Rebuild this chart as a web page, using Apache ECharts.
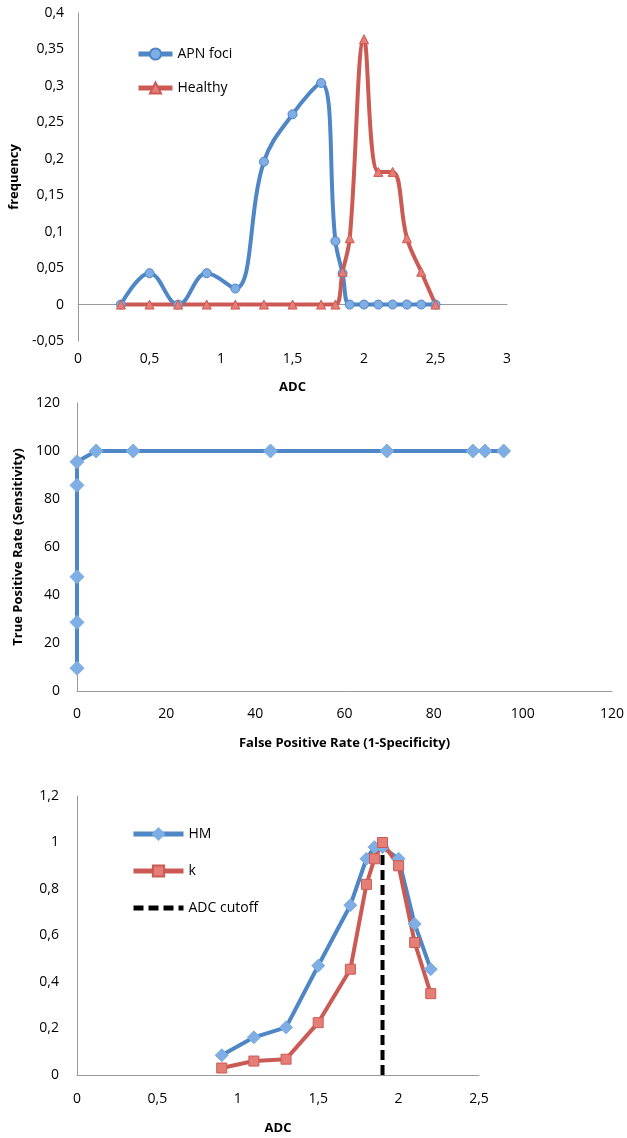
<!DOCTYPE html>
<html><head><meta charset="utf-8">
<script src="https://cdn.jsdelivr.net/npm/echarts@6/dist/echarts.min.js"></script>
<style>html,body{margin:0;padding:0;background:#fff}#c{width:627px;height:1138px}</style>
</head><body><div id="c"></div>
<script>
// Chart 1: frequency distribution
const adcBins = [0.3,0.5,0.7,0.9,1.1,1.3,1.5,1.7,1.8,1.85,1.9,2.0,2.1,2.2,2.3,2.4,2.5];
const apnFoci = [0,0.043,0,0.043,0.022,0.196,0.261,0.304,0.087,0.043,0,0,0,0,0,0,0];
const healthy = [0,0,0,0,0,0,0,0,0,0.045,0.091,0.364,0.182,0.182,0.091,0.045,0];
// Chart 2: ROC
const fpr = [0,0,0,0,0,4.3,12.6,43.4,69.5,88.8,91.5,95.7];
const tpr = [9.5,28.6,47.6,85.7,95.5,100,100,100,100,100,100,100];
// Chart 3: HM and k vs ADC
const adcCut = [0.9,1.1,1.3,1.5,1.7,1.8,1.85,1.9,2.0,2.1,2.2];
const hm = [0.085,0.162,0.205,0.47,0.73,0.93,0.98,0.98,0.93,0.65,0.455];
const kappa = [0.03,0.06,0.068,0.225,0.455,0.82,0.93,1.0,0.90,0.57,0.35];
const cutoffX = [1.9,1.9];
const cutoffY = [0,1.0];

const FONT = 'Open Sans';
const BLUE = '#4f86c6', BLUE_L = '#7eaee3';
const RED = '#cc5a54', RED_L = '#e57e77';
const fmt = v => String(Math.round(v*1000)/1000).replace('.', ',');
const lbl = (m) => ({margin:m, formatter:fmt, fontSize:14, color:'#000', fontFamily:FONT});
const aLine = {show:true, onZero:true, lineStyle:{color:'#999', width:1}};
const nameStyle = {fontWeight:'bold', fontSize:13, color:'#000', fontFamily:FONT};
const base = {type:'value', axisLine:aLine, axisTick:{show:false}, splitLine:{show:false}};
const pairs = (xs, ys) => xs.map((x,i)=>[x, ys[i]]);

const option = {
  animation:false,
  backgroundColor:'#fff',
  grid:[
    {left:77, top:13, width:430, height:328},
    {left:77, top:403, width:535, height:288},
    {left:77, top:796, width:402, height:279}
  ],
  xAxis:[
    Object.assign({}, base, {gridIndex:0, min:0, max:3, interval:0.5, axisLabel:lbl(11),
      name:'ADC', nameLocation:'middle', nameGap:40, nameTextStyle:nameStyle}),
    Object.assign({}, base, {gridIndex:1, min:0, max:120, interval:20, axisLabel:lbl(16),
      name:'False Positive Rate (1-Specificity)', nameLocation:'middle', nameGap:46, nameTextStyle:nameStyle}),
    Object.assign({}, base, {gridIndex:2, min:0, max:2.5, interval:0.5, axisLabel:lbl(17),
      name:'ADC', nameLocation:'middle', nameGap:47, nameTextStyle:nameStyle})
  ],
  yAxis:[
    Object.assign({}, base, {gridIndex:0, min:-0.05, max:0.4, interval:0.05, axisLabel:lbl(14),
      name:'frequency', nameLocation:'middle', nameGap:52, nameTextStyle:nameStyle}),
    Object.assign({}, base, {gridIndex:1, min:0, max:120, interval:20, axisLabel:lbl(17),
      name:'True Positive Rate (Sensitivity)', nameLocation:'middle', nameGap:52, nameTextStyle:nameStyle}),
    Object.assign({}, base, {gridIndex:2, min:0, max:1.2, interval:0.2, axisLabel:lbl(18)})
  ],
  legend:[
    {data:['APN foci','Healthy'], orient:'vertical', left:131, top:42, itemWidth:34, itemHeight:14, itemGap:20,
     selectedMode:false, lineStyle:{width:5}, textStyle:{fontSize:14, color:'#000', fontFamily:FONT}},
    {data:['HM','k',{name:'ADC cutoff', itemStyle:{opacity:0}}], orient:'vertical', left:126, top:822,
     itemWidth:50, itemHeight:14, itemGap:23,
     selectedMode:false, lineStyle:{width:5}, textStyle:{fontSize:14, color:'#000', fontFamily:FONT}}
  ],
  series:[
    {name:'APN foci', type:'line', xAxisIndex:0, yAxisIndex:0, data:pairs(adcBins, apnFoci), smooth:0.4,
     symbol:'circle', symbolSize:9, lineStyle:{width:4, color:BLUE},
     itemStyle:{color:BLUE_L, borderColor:BLUE, borderWidth:1}},
    {name:'Healthy', type:'line', xAxisIndex:0, yAxisIndex:0, data:pairs(adcBins, healthy), smooth:0.4,
     symbol:'triangle', symbolSize:9, lineStyle:{width:4, color:RED},
     itemStyle:{color:RED_L, borderColor:RED, borderWidth:1}},
    {name:'ROC', type:'line', xAxisIndex:1, yAxisIndex:1, data:pairs(fpr, tpr),
     symbol:'diamond', symbolSize:14, lineStyle:{width:4, color:BLUE},
     itemStyle:{color:BLUE_L, borderColor:BLUE_L, borderWidth:1}},
    {name:'HM', type:'line', xAxisIndex:2, yAxisIndex:2, data:pairs(adcCut, hm),
     symbol:'diamond', symbolSize:13, lineStyle:{width:4, color:BLUE},
     itemStyle:{color:BLUE_L, borderColor:BLUE_L, borderWidth:1}},
    {name:'k', type:'line', xAxisIndex:2, yAxisIndex:2, data:pairs(adcCut, kappa),
     symbol:'rect', symbolSize:10, lineStyle:{width:4, color:RED},
     itemStyle:{color:RED_L, borderColor:RED, borderWidth:1}},
    {name:'ADC cutoff', type:'line', xAxisIndex:2, yAxisIndex:2, data:pairs(cutoffX, cutoffY),
     symbol:'none', lineStyle:{width:4, color:'#000', type:[10,5]}, itemStyle:{color:'#000'}}
  ]
};
const chart = echarts.init(document.getElementById('c'), null, {renderer:'canvas'});
chart.setOption(option);
</script>
</body></html>
